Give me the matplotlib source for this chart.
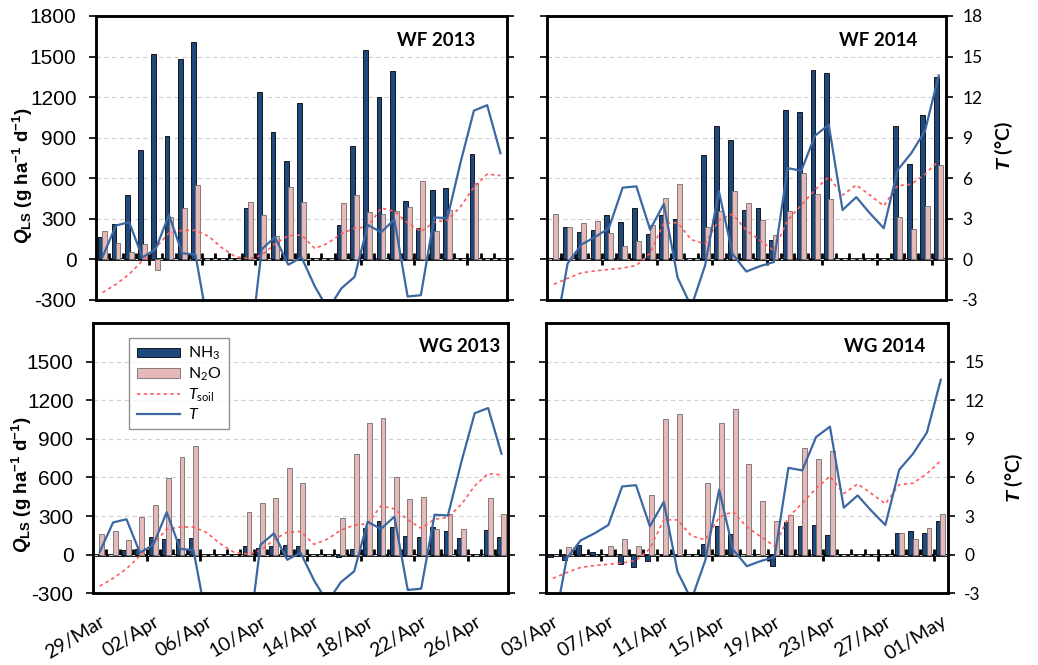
import numpy as np
import pandas as pd
import matplotlib
matplotlib.use('Agg')
import matplotlib.pyplot as plt

plt.rcParams['font.family'] = ['Lato', 'DejaVu Sans']
plt.rcParams['axes.unicode_minus'] = False
plt.rcParams['mathtext.fontset'] = 'custom'
plt.rcParams['mathtext.rm'] = 'Lato'
plt.rcParams['mathtext.it'] = 'Lato:italic'
plt.rcParams['mathtext.bf'] = 'Liberation Sans:bold'
plt.rcParams['mathtext.bfit'] = 'Liberation Sans:bold:italic'

nan = np.nan

# daily categories
days_2013 = pd.date_range('2013-03-29', '2013-04-28')
days_2014 = pd.date_range('2014-04-03', '2014-05-01')

# Q_LS (g ha-1 d-1)
nh3_wf13 = [168, 258, 478, 810, 1518, 913, 1480, 1608, nan, nan, nan, 378, 1238, 940, 728, 1154,
            nan, nan, 254, 838, 1548, 1199, 1395, 432, 230, 515, 526, nan, 778, nan, nan]
n2o_wf13 = [212, 120, 56, 115, -76, 312, 378, 551, nan, nan, nan, 425, 331, 176, 538, 425,
            nan, nan, 420, 474, 351, 338, 356, 385, 580, 207, 365, nan, 563, nan, nan]
nh3_wg13 = [nan, nan, 35, 45, 140, 120, 122, 132, nan, nan, nan, 70, 54, 70, 75, 70,
            nan, nan, -18, 42, 210, 262, 218, 143, 138, 213, 187, 132, nan, 195, 138]
n2o_wg13 = [162, 182, 111, 293, 386, 596, 762, 842, nan, nan, nan, 334, 399, 438, 671, 560,
            nan, nan, 288, 785, 1026, 1062, 600, 431, 449, 203, 317, 200, nan, 439, 314]

nh3_wf14 = [nan, 236, 201, 218, 325, 273, 377, 191, 328, 298, nan, 775, 988, 886, 364, 377,
            146, 1108, 1089, 1401, 1381, nan, nan, nan, nan, 987, 707, 1071, 1351]
n2o_wf14 = [333, 241, 268, 283, 194, 99, 137, 253, 454, 559, nan, 241, 360, 502, 414, 290,
            181, 355, 640, 484, 444, nan, nan, nan, nan, 310, 228, 394, 699]
nh3_wg14 = [-20, -39, 77, 20, nan, -74, -93, -48, nan, -10, nan, 83, 225, 160, nan, nan,
            -91, 253, 222, 228, 149, nan, nan, nan, nan, 165, 180, 165, 260]
n2o_wg14 = [nan, 58, nan, nan, 70, 120, 70, 465, 1057, 1093, nan, 554, 1020, 1132, 701, 415,
            260, 308, 828, 740, 808, nan, nan, nan, nan, 165, 120, 204, 315]

# temperatures (degC)
tair_13 = [0.2, 2.5, 2.75, 0.15, 0.75, 3.3, 0.45, 0.35, -5.2, -7.0, -8.0, -7.6, 0.75, 1.65, -0.4, 0.15,
           -2.0, -3.7, -2.15, -1.3, 2.55, 2.0, 2.95, -2.75, -2.65, 3.1, 3.05, 7.2, 11.0, 11.4, 7.85]
tsoil_13 = [-2.45, -1.85, -1.1, -0.1, 0.85, 1.95, 2.15, 2.15, 1.7, 0.85, 0.2, 0.05, 0.3, 1.15, 1.75, 1.8,
            0.8, 1.2, 1.9, 2.3, 2.4, 3.8, 3.55, 2.7, 2.05, 2.75, 2.9, 3.9, 5.35, 6.3, 6.2]
tair_14 = [-6.0, -0.3, 1.1, 1.65, 2.3, 5.3, 5.4, 2.2, 4.1, -1.35, -3.5, -0.45, 5.05, 0.4, -0.9, -0.5,
           -0.2, 6.75, 6.55, 9.15, 9.95, 3.65, 4.6, 3.4, 2.3, 6.6, 7.85, 9.5, 13.6]
tsoil_14 = [-1.85, -1.4, -1.0, -0.85, -0.75, -0.65, -0.45, 0.45, 2.7, 2.7, 1.45, 1.15, 2.9, 3.35, 2.15, 1.4,
            0.65, 2.9, 4.0, 5.15, 6.1, 4.75, 5.5, 4.75, 3.95, 5.45, 5.55, 6.3, 7.3]

NH3_C = '#1f497d'
N2O_C = '#e6b9b8'
TAIR_C = '#3b67a3'
TSOIL_C = '#ff5b5b'


def panel(ax, days, nh3, n2o, tsoil, tair, title, title_x, qmax_tick, tmax_tick,
          xlab=False, left=True, right=False, legend=False, qlab_xy=None, tlab_xy=None):
    n = len(days)
    x = np.arange(n)
    ax.bar(x - 0.15, nh3, 0.36, color=NH3_C, edgecolor='black', lw=0.6, zorder=2, label='NH$_3$')
    ax.bar(x + 0.15, n2o, 0.36, color=N2O_C, edgecolor='#6e6e6e', lw=0.6, zorder=2, label='N$_2$O')
    ax.set_xlim(-0.5, n - 0.5)
    ax.set_ylim(-300, 1800)
    ax.set_yticks(np.arange(-300, qmax_tick + 1, 300))
    ax.set_axisbelow(True)
    ax.grid(axis='y', color='#cfcfcf', linestyle=(0, (4, 3)), lw=0.8)
    ax.tick_params(axis='y', direction='out', length=5, width=1.2, labelsize=15, pad=9,
                   labelleft=left)
    for lbl in ax.get_yticklabels():
        lbl.set_family('Liberation Sans')

    # category labels every 4 days
    ax.set_xticks(x[::4])
    if xlab:
        ax.set_xticklabels(days[::4].strftime('%d/%b'), rotation=31, ha='right',
                           rotation_mode='anchor', fontsize=14)
    else:
        ax.set_xticklabels([])
    ax.tick_params(axis='x', length=0, pad=14)

    # horizontal axis crossing at zero
    sec = ax.secondary_xaxis(300 / 2100)
    sec.set_xticks(np.arange(3.5, n - 1, 4))
    sec.set_xticks(np.arange(0.5, n - 1, 1), minor=True)
    sec.tick_params(which='major', direction='inout', length=9, width=2,
                    labelbottom=False, labeltop=False)
    sec.tick_params(which='minor', direction='in', length=4, width=2)
    for s in sec.spines.values():
        s.set_linewidth(2)

    tw = ax.twinx()
    tw.plot(x, tsoil, ls=(0, (2, 2)), color=TSOIL_C, lw=1.2, label=r'$T_{\rm soil}$')
    tw.plot(x, tair, color=TAIR_C, lw=1.6, label='$T$')
    tw.set_ylim(-3, 18)
    tw.set_yticks(np.arange(-3, tmax_tick + 1, 3))
    tw.tick_params(axis='y', direction='out', length=5, width=1.2, labelsize=12.5, pad=7,
                   labelright=right)

    for a in (ax, tw):
        for s in a.spines.values():
            s.set_linewidth(1.8)

    tw.text(title_x, 0.945, title, transform=ax.transAxes, ha='right', va='top',
            fontsize=13.5, fontweight='bold')

    if left:
        ax.set_ylabel(r'$\mathbfit{Q}_{\mathbf{LS}}\ \mathbf{(g\ ha^{-1}\ d^{-1})}$', fontsize=13.5)
        ax.yaxis.set_label_coords(*qlab_xy)
    if right:
        tw.set_ylabel(r'$\mathbfit{T}$ (°C)', fontsize=14, fontweight='bold')
        tw.yaxis.set_label_coords(*tlab_xy)

    if legend:
        h1, l1 = ax.get_legend_handles_labels()
        h2, l2 = tw.get_legend_handles_labels()
        leg = tw.legend(h1 + h2, l1 + l2, loc='upper left', bbox_to_anchor=(0.0875, 0.9456),
                        prop={'family': 'Lato', 'size': 11.5}, frameon=True, fancybox=False,
                        edgecolor='#777777', handlelength=2.7, handleheight=0.5,
                        labelspacing=0.2, borderpad=0.45, handletextpad=0.55, borderaxespad=0)
        leg.get_frame().set_linewidth(1.0)
    return tw


fig = plt.figure(figsize=(10.38, 6.65), dpi=100)
ax1 = fig.add_axes([0.0925, 0.549, 0.396, 0.427])
ax2 = fig.add_axes([0.527, 0.549, 0.384, 0.427])
ax3 = fig.add_axes([0.0896, 0.108, 0.400, 0.406])
ax4 = fig.add_axes([0.526, 0.108, 0.387, 0.406])

panel(ax1, days_2013, nh3_wf13, n2o_wf13, tsoil_13, tair_13, 'WF 2013', 0.922, 1800, 18,
      left=True, right=False, qlab_xy=(-0.148, 0.437))
panel(ax2, days_2014, nh3_wf14, n2o_wf14, tsoil_14, tair_14, 'WF 2014', 0.93, 1800, 18,
      left=False, right=True, tlab_xy=(1.118, 0.542))
panel(ax3, days_2013, nh3_wg13, n2o_wg13, tsoil_13, tair_13, 'WG 2013', 0.98, 1500, 15,
      xlab=True, left=True, right=False, legend=True, qlab_xy=(-0.142, 0.40))
panel(ax4, days_2014, nh3_wg14, n2o_wg14, tsoil_14, tair_14, 'WG 2014', 0.945, 1500, 15,
      xlab=True, left=False, right=True, tlab_xy=(1.137, 0.426))

fig.savefig('out.png', dpi=100)
